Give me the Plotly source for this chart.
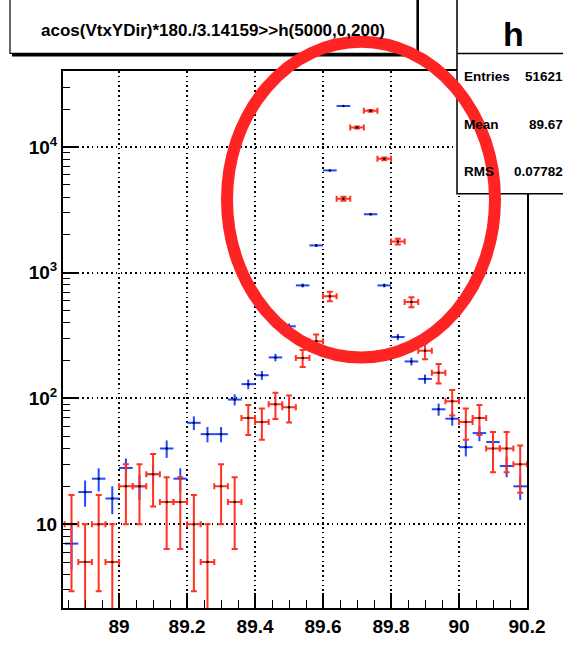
import numpy as np
import plotly.graph_objects as go

# ---------------- data ----------------
bin_centers = [88.86, 88.90, 88.94, 88.98, 89.02, 89.06, 89.10, 89.14, 89.18, 89.22,
               89.26, 89.30, 89.34, 89.38, 89.42, 89.46, 89.50, 89.54, 89.58, 89.62,
               89.66, 89.70, 89.74, 89.78, 89.82, 89.86, 89.90, 89.94, 89.98, 90.02,
               90.06, 90.10, 90.14, 90.18]

blue_counts = [7, 18, 23, 16, 28, 20, 25, 40, 23, 64,
               52, 52, 98, 130, 153, 212, 375, 793, 1650, 6520,
               21200, None, 2920, 793, 308, 197, 143, 82, 69, 41,
               53, 45, 29, 20]

red_counts = [10, 5, 10, 5, 20, 20, 25, 15, 15, 10,
              5, 20, 15, 70, 65, 90, 85, 210, 285, 650,
              3880, 14300, 19400, 8070, 1770, 585, 240, 160, 95, 65,
              70, 40, 40, 30]

red_scale = 5          # red histogram is a scaled copy: errors = scale*sqrt(n)
half_bin = 0.02

x_ticks = [89, 89.2, 89.4, 89.6, 89.8, 90, 90.2]
x_ticklabels = ["89", "89.2", "89.4", "89.6", "89.8", "90", "90.2"]
y_ticks = [10, 100, 1000, 10000]
y_ticklabels = ["10", "10<sup>2</sup>", "10<sup>3</sup>", "10<sup>4</sup>"]

title_text = "acos(VtxYDir)*180./3.14159>>h(5000,0,200)"
stats_name = "h"
stats_rows = [("Entries", "51621"), ("Mean", "89.67"), ("RMS", "0.07782")]

# ---------------- layout geometry ----------------
W, H = 563, 649
ML, MR, MT, MB = 63, 36, 71, 27
PW, PH = W - ML - MR, H - MT - MB


def px(xp):
    return (xp - ML) / PW


def py(yp):
    return (H - MB - yp) / PH


FONT = "Liberation Sans, Arial, Helvetica, sans-serif"
BLUE = "#2346ff"
RED = "#ff3322"

bx = np.array(bin_centers, dtype=float)
bv = np.array([np.nan if v is None else v for v in blue_counts], dtype=float)
be = np.sqrt(bv)
rv = np.array(red_counts, dtype=float)
re = np.sqrt(red_scale * rv)
re_minus = np.minimum(re, rv * 0.9)

fig = go.Figure()

fig.add_trace(go.Scatter(
    x=bx, y=bv, mode="markers",
    marker=dict(size=2.5, color="black"),
    error_x=dict(type="constant", value=half_bin, color=BLUE, thickness=2, width=0),
    error_y=dict(type="data", array=be, color=BLUE, thickness=2, width=0),
    showlegend=False, hoverinfo="skip"))

fig.add_trace(go.Scatter(
    x=bx, y=rv, mode="markers",
    marker=dict(size=2.5, color="black"),
    error_x=dict(type="constant", value=half_bin, color=RED, thickness=2, width=3),
    error_y=dict(type="data", array=re, arrayminus=re_minus, color=RED, thickness=2, width=3),
    showlegend=False, hoverinfo="skip"))

axis_font = dict(family=FONT, size=19, color="black", weight="bold")
GRID_DASH = "1.6px,3.2px"

fig.update_xaxes(
    range=[88.835, 90.2], tickvals=x_ticks, ticktext=x_ticklabels,
    ticks="inside", ticklen=15, tickwidth=1.5, tickcolor="black",
    showline=True, linecolor="black", linewidth=2, mirror=True,
    showgrid=True, gridcolor="black", griddash=GRID_DASH, gridwidth=1.6,
    zeroline=False, tickfont=axis_font,
    minor=dict(ticks="inside", ticklen=8, dtick=0.05, tick0=89, tickcolor="black", tickwidth=1.2, showgrid=False),
)
fig.update_yaxes(
    type="log", range=[0.333, 4.605], tickvals=y_ticks, ticktext=y_ticklabels,
    ticks="inside", ticklen=14, tickwidth=1.5, tickcolor="black",
    showline=True, linecolor="black", linewidth=2, mirror=True,
    showgrid=True, gridcolor="black", griddash=GRID_DASH, gridwidth=1.6,
    zeroline=False, tickfont=axis_font,
    minor=dict(ticks="inside", ticklen=7, dtick="D1", tickcolor="black", tickwidth=1.2, showgrid=False),
)

shapes = []
# title box with shadow
shapes.append(dict(type="rect", xref="paper", yref="paper",
                   x0=px(12), x1=px(419), y0=py(56), y1=py(-5),
                   line=dict(color="black", width=0), fillcolor="black", layer="above"))
shapes.append(dict(type="rect", xref="paper", yref="paper",
                   x0=px(10), x1=px(417), y0=py(53), y1=py(-5),
                   line=dict(color="black", width=1.2), fillcolor="white", layer="above"))
# stats box
shapes.append(dict(type="rect", xref="paper", yref="paper",
                   x0=px(457), x1=px(600), y0=py(197), y1=py(-5),
                   line=dict(color="black", width=1.5), fillcolor="white", layer="above"))
shapes.append(dict(type="line", xref="paper", yref="paper",
                   x0=px(457), x1=px(600), y0=py(53), y1=py(53),
                   line=dict(color="black", width=1.5), layer="above"))
# hand-drawn red ellipse
shapes.append(dict(type="circle", xref="paper", yref="paper",
                   x0=px(227), x1=px(495), y0=py(365), y1=py(41),
                   line=dict(color="#ff2424", width=12), layer="above"))

annotations = []
annotations.append(dict(xref="paper", yref="paper", x=px(213), y=py(29),
                        text=title_text, showarrow=False, xanchor="center", yanchor="middle",
                        font=dict(family=FONT, size=17, color="black", weight="bold")))
annotations.append(dict(xref="paper", yref="paper", x=px(513), y=py(33),
                        text=stats_name, showarrow=False, xanchor="center", yanchor="middle",
                        font=dict(family=FONT, size=34, color="black", weight="bold")))
for (lab, val), yy in zip(stats_rows, [77, 126, 174]):
    annotations.append(dict(xref="paper", yref="paper", x=px(462), y=py(yy),
                            text=lab, showarrow=False, xanchor="left", yanchor="middle",
                            font=dict(family=FONT, size=13.5, color="black", weight="bold")))
    annotations.append(dict(xref="paper", yref="paper", x=px(565), y=py(yy),
                            text=val, showarrow=False, xanchor="right", yanchor="middle",
                            font=dict(family=FONT, size=13.5, color="black", weight="bold")))

fig.update_layout(
    width=W, height=H,
    margin=dict(l=ML, r=MR, t=MT, b=MB, pad=0),
    paper_bgcolor="white", plot_bgcolor="white",
    shapes=shapes, annotations=annotations,
    font=dict(family=FONT, color="black"),
)

fig.write_html("out.html")
